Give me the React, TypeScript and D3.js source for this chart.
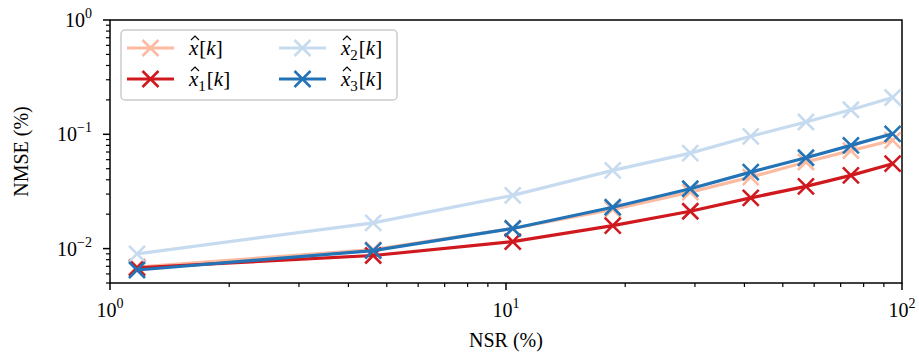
import React, { useEffect, useRef } from 'react';
import * as d3 from 'd3';

const nsr = [1.17, 4.62, 10.4, 18.6, 29.2, 41.5, 57.2, 74.3, 94.7];
const xHat = [0.0069, 0.0098, 0.0150, 0.0220, 0.0312, 0.0422, 0.0572, 0.0720, 0.0886];
const xHat1 = [0.0068, 0.0087, 0.0115, 0.0159, 0.0212, 0.0278, 0.0350, 0.0437, 0.0553];
const xHat2 = [0.0090, 0.0168, 0.0292, 0.0483, 0.0685, 0.0960, 0.1280, 0.1640, 0.2100];
const xHat3 = [0.0065, 0.0096, 0.0150, 0.0230, 0.0334, 0.0467, 0.0624, 0.0800, 0.1010];

const seriesNames = ['', '1', '2', '3'];
const seriesColors = ['#fcbba1', '#d0191e', '#c6dbef', '#2373b7'];
const seriesValues = [xHat, xHat1, xHat2, xHat3];

const FONT = '"Liberation Serif", "DejaVu Serif", serif';

export default function App() {
  const ref = useRef<SVGSVGElement>(null);

  useEffect(() => {
    const W = 919;
    const H = 356;
    const margin = { top: 20, right: 17, bottom: 73, left: 110 };
    const width = W - margin.left - margin.right;
    const height = H - margin.top - margin.bottom;

    const root = d3.select(ref.current);
    root.selectAll('*').remove();
    root.attr('width', W).attr('height', H);

    const svg = root.append('g').attr('transform', `translate(${margin.left},${margin.top})`);

    const x = d3.scaleLog().domain([1, 100]).range([0, width]);
    const y = d3.scaleLog().domain([0.005, 1]).range([height, 0]);

    const xMinor: number[] = [];
    for (const d of [1, 10]) for (let i = 2; i <= 9; i++) xMinor.push(d * i);
    const yMinor: number[] = [];
    for (const d of [0.001, 0.01, 0.1]) for (let i = 2; i <= 9; i++) {
      const v = d * i;
      if (v >= 0.005 - 1e-9 && v <= 1) yMinor.push(v);
    }

    const sup = (e: string) => (g: any) => {
      g.append('tspan').text('10');
      g.append('tspan').attr('dy', -9).attr('font-size', 14).text(e);
    };

    // x axis
    const xa = svg.append('g').attr('transform', `translate(0,${height})`);
    xa.selectAll('line.minor').data(xMinor).enter().append('line')
      .attr('x1', d => x(d)).attr('x2', d => x(d)).attr('y1', 0).attr('y2', 4)
      .attr('stroke', '#000').attr('stroke-width', 1.2);
    xa.selectAll('line.major').data([1, 10, 100]).enter().append('line')
      .attr('x1', d => x(d)).attr('x2', d => x(d)).attr('y1', 0).attr('y2', 7)
      .attr('stroke', '#000').attr('stroke-width', 1.5);
    [[1, '0'], [10, '1'], [100, '2']].forEach(([v, e]) => {
      xa.append('text').attr('x', x(v as number)).attr('y', 34)
        .attr('text-anchor', 'middle').attr('font-family', FONT).attr('font-size', 20)
        .call(sup(e as string));
    });

    // y axis
    const ya = svg.append('g');
    ya.selectAll('line.minor').data(yMinor).enter().append('line')
      .attr('y1', d => y(d)).attr('y2', d => y(d)).attr('x1', 0).attr('x2', -4)
      .attr('stroke', '#000').attr('stroke-width', 1.2);
    ya.selectAll('line.major').data([0.01, 0.1, 1]).enter().append('line')
      .attr('y1', d => y(d)).attr('y2', d => y(d)).attr('x1', 0).attr('x2', -7)
      .attr('stroke', '#000').attr('stroke-width', 1.5);
    [[1, '0'], [0.1, '\u22121'], [0.01, '\u22122']].forEach(([v, e]) => {
      ya.append('text').attr('x', -18).attr('y', y(v as number) + 7)
        .attr('text-anchor', 'end').attr('font-family', FONT).attr('font-size', 20)
        .call(sup(e as string));
    });

    // spines
    svg.append('rect').attr('width', width).attr('height', height)
      .attr('fill', 'none').attr('stroke', '#000').attr('stroke-width', 1.5);

    // axis labels
    svg.append('text').attr('x', width / 2).attr('y', height + 64)
      .attr('text-anchor', 'middle').attr('font-family', FONT).attr('font-size', 20)
      .text('NSR (%)');
    svg.append('text').attr('transform', `translate(${-82},${height / 2}) rotate(-90)`)
      .attr('text-anchor', 'middle').attr('font-family', FONT).attr('font-size', 20)
      .text('NMSE (%)');

    const line = d3.line<number>().x((_, i) => x(nsr[i])).y(d => y(d));
    const cross = 'M-8,-8L8,8M-8,8L8,-8';

    const plot = svg.append('g');
    seriesValues.forEach((vals, s) => {
      const g = plot.append('g');
      g.append('path').datum(vals).attr('d', line).attr('fill', 'none')
        .attr('stroke', seriesColors[s]).attr('stroke-width', 3.2);
      g.selectAll('path.m').data(vals).enter().append('path')
        .attr('d', cross)
        .attr('transform', (d, i) => `translate(${x(nsr[i])},${y(d)})`)
        .attr('stroke', seriesColors[s]).attr('stroke-width', 2.6).attr('fill', 'none');
    });

    // legend
    const lg = svg.append('g').attr('transform', 'translate(11,10)');
    lg.append('rect').attr('width', 276).attr('height', 70).attr('rx', 4)
      .attr('fill', 'rgba(255,255,255,0.8)').attr('stroke', '#ccc').attr('stroke-width', 1.5);
    const pos = [[0, 0], [0, 1], [1, 0], [1, 1]];
    seriesNames.forEach((name, s) => {
      const [c, r] = pos[s];
      const ox = 6 + c * 152;
      const oy = 18 + r * 31;
      lg.append('line').attr('x1', ox).attr('x2', ox + 47).attr('y1', oy).attr('y2', oy)
        .attr('stroke', seriesColors[s]).attr('stroke-width', 3.2);
      lg.append('path').attr('d', cross).attr('transform', `translate(${ox + 23.5},${oy})`)
        .attr('stroke', seriesColors[s]).attr('stroke-width', 2.6).attr('fill', 'none');
      const tx = ox + 62;
      const t = lg.append('text').attr('x', tx).attr('y', oy + 7)
        .attr('font-family', FONT).attr('font-size', 21);
      t.append('tspan').attr('font-style', 'italic').text('x');
      if (name) t.append('tspan').attr('dy', 5).attr('font-size', 15).text(name);
      t.append('tspan').attr('dy', name ? -5 : 0).attr('dx', 1).text('[');
      t.append('tspan').attr('font-style', 'italic').text('k');
      t.append('tspan').text(']');
      // hat over x
      lg.append('path').attr('d', `M${tx + 2},${oy - 8}L${tx + 6},${oy - 12}L${tx + 10},${oy - 8}`)
        .attr('fill', 'none').attr('stroke', '#000').attr('stroke-width', 1.1);
    });
  }, []);

  return (
    <div style={{ position: 'absolute', left: 0, top: 0, width: 919, height: 356, overflow: 'hidden' }}>
      <svg ref={ref} style={{ display: 'block' }} />
    </div>
  );
}
